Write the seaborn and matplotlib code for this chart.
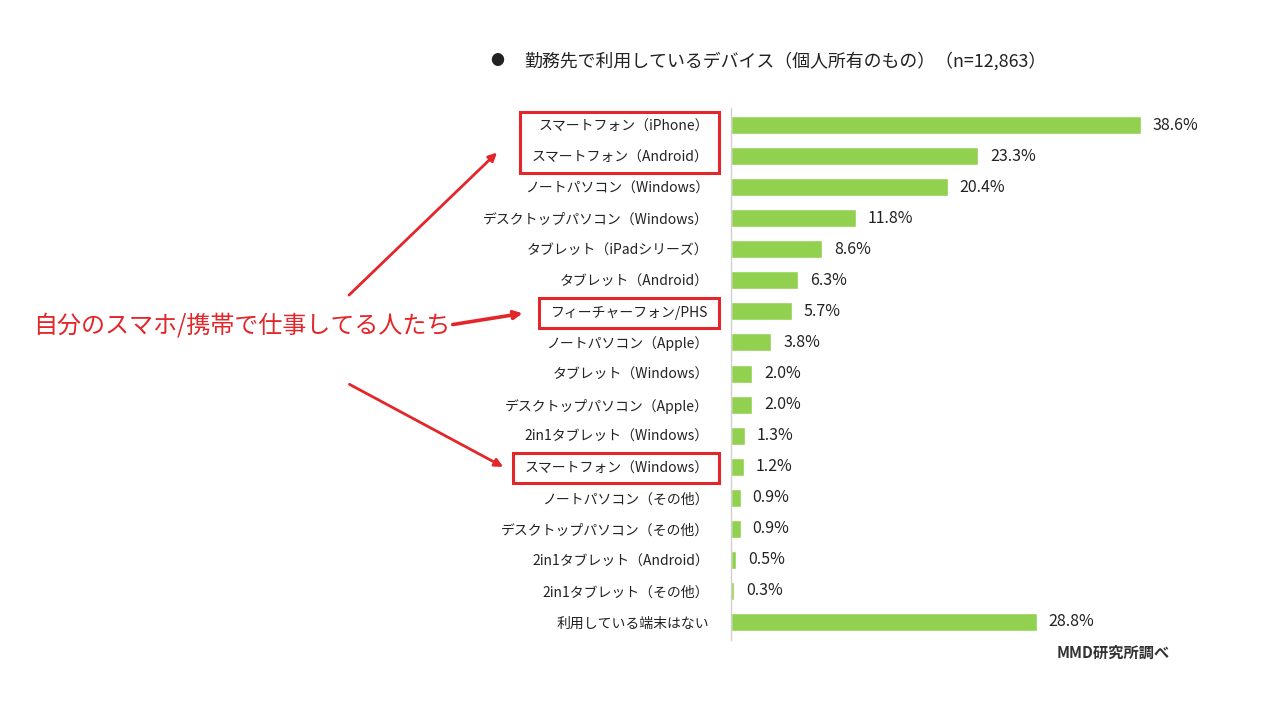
import matplotlib
matplotlib.use("Agg")
import matplotlib.pyplot as plt
import seaborn as sns
import pandas as pd
from matplotlib.patches import Rectangle, FancyArrowPatch

sns.set_theme(style="white")
plt.rcParams['font.family'] = ['Noto Sans CJK JP', 'DejaVu Sans']

categories = [
    "スマートフォン（iPhone）", "スマートフォン（Android）", "ノートパソコン（Windows）",
    "デスクトップパソコン（Windows）", "タブレット（iPadシリーズ）", "タブレット（Android）",
    "フィーチャーフォン/PHS", "ノートパソコン（Apple）", "タブレット（Windows）",
    "デスクトップパソコン（Apple）", "2in1タブレット（Windows）", "スマートフォン（Windows）",
    "ノートパソコン（その他）", "デスクトップパソコン（その他）", "2in1タブレット（Android）",
    "2in1タブレット（その他）", "利用している端末はない",
]
values = [38.6, 23.3, 20.4, 11.8, 8.6, 6.3, 5.7, 3.8, 2.0, 2.0, 1.3, 1.2, 0.9, 0.9, 0.5, 0.3, 28.8]
bullet = "●"
title = "勤務先で利用しているデバイス（個人所有のもの）（n=12,863）"
source = "MMD研究所調べ"
note = "自分のスマホ/携帯で仕事してる人たち"
boxed = [[0, 1], [6], [11]]

df = pd.DataFrame({"device": categories, "pct": values})

W, H = 1280, 720
fig = plt.figure(figsize=(12.8, 7.2), dpi=100)
ax = fig.add_axes([731 / W, (720 - 640) / H, 531 / W, 532 / H])
sns.barplot(data=df, y="device", x="pct", orient="h", color="#92D050",
            saturation=1, width=0.58, ax=ax)
ax.set_xlim(0, 50)
ax.set_ylim(16.58, -0.55)
ax.set_xlabel("")
ax.set_ylabel("")
ax.set_xticks([])
for s in ["top", "right", "bottom"]:
    ax.spines[s].set_visible(False)
ax.spines["left"].set_color("#d0d0d0")
ax.spines["left"].set_linewidth(1)
ax.tick_params(axis="y", length=0, pad=16, labelsize=10, labelcolor="#222222")

for i, v in enumerate(values):
    ax.annotate(f"{v:.1f}%", (v, i), xytext=(8.5, 0), textcoords="offset points",
                va="center", ha="left", fontsize=11.5, color="#222222")

fig.text(490 / W, 1 - 61 / H, bullet, fontsize=10, color="#222222", va="center", ha="left")
fig.text(524 / W, 1 - 61 / H, title, fontsize=12.9, color="#222222", va="center", ha="left")
fig.text(1170 / W, 1 - 653 / H, source, fontsize=11, fontweight="bold", color="#333333",
         va="center", ha="right")

red = "#E3262A"
fig.text(33 / W, 1 - 326 / H, note, fontsize=17.3, color=red, va="center", ha="left")

fig.canvas.draw()
renderer = fig.canvas.get_renderer()
labels = ax.get_yticklabels()
boxes = []
for grp in boxed:
    exts = [labels[i].get_window_extent(renderer) for i in grp]
    x0 = min(e.x0 for e in exts) - 12
    x1 = max(e.x1 for e in exts) + 10
    y0 = min(e.y0 for e in exts) - 8
    y1 = max(e.y1 for e in exts) + 8
    fig.patches.append(Rectangle((x0 / W, y0 / H), (x1 - x0) / W, (y1 - y0) / H,
                                 transform=fig.transFigure, fill=False,
                                 edgecolor=red, linewidth=2.2))
    boxes.append((x0, y0, x1, y1))

def arrow(x0, y0, x1, y1, lw=2):
    fig.patches.append(FancyArrowPatch((x0 / W, y0 / H), (x1 / W, y1 / H),
                                       transform=fig.transFigure, arrowstyle="-|>",
                                       mutation_scale=12, color=red, linewidth=lw))

b1, b2, b3 = boxes
arrow(347, H - 297, b1[0] - 21, b1[1] + 22)
arrow(450, H - 325, b2[0] - 14, (b2[1] + b2[3]) / 2, lw=2.6)
arrow(347, H - 383, b3[0] - 7, (b3[1] + b3[3]) / 2)

fig.savefig("out.png", dpi=100)
